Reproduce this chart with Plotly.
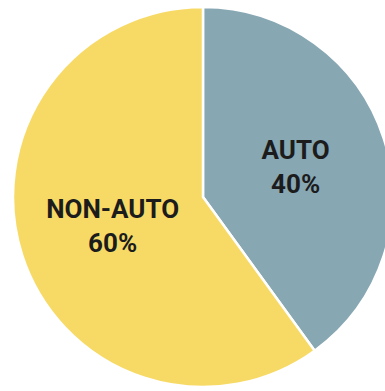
import plotly.graph_objects as go

labels = ["AUTO", "NON-AUTO"]
values = [40, 60]
colors = ["#87A7B3", "#F7DA66"]

W, H = 400, 391
cx, cy, r = 203, 197, 190

fig = go.Figure(go.Pie(
    labels=labels,
    values=values,
    sort=False,
    direction="clockwise",
    rotation=0,
    marker=dict(colors=colors, line=dict(color="white", width=2.5)),
    texttemplate="<b>%{label}</b><br><b>%{percent:.0%}</b>",
    textposition="inside",
    insidetextorientation="horizontal",
    textfont=dict(family="Roboto", size=26, color="#1c1c1c"),
    hoverinfo="label+percent",
    domain=dict(x=[(cx - r) / W, (cx + r) / W], y=[1 - (cy + r) / H, 1 - (cy - r) / H]),
))
fig.update_layout(
    width=W, height=H,
    margin=dict(l=0, r=0, t=0, b=0),
    showlegend=False,
    paper_bgcolor="white",
)
fig.write_html("out.html", post_script="document.documentElement.style.overflow='hidden';document.body.style.overflow='hidden';")
